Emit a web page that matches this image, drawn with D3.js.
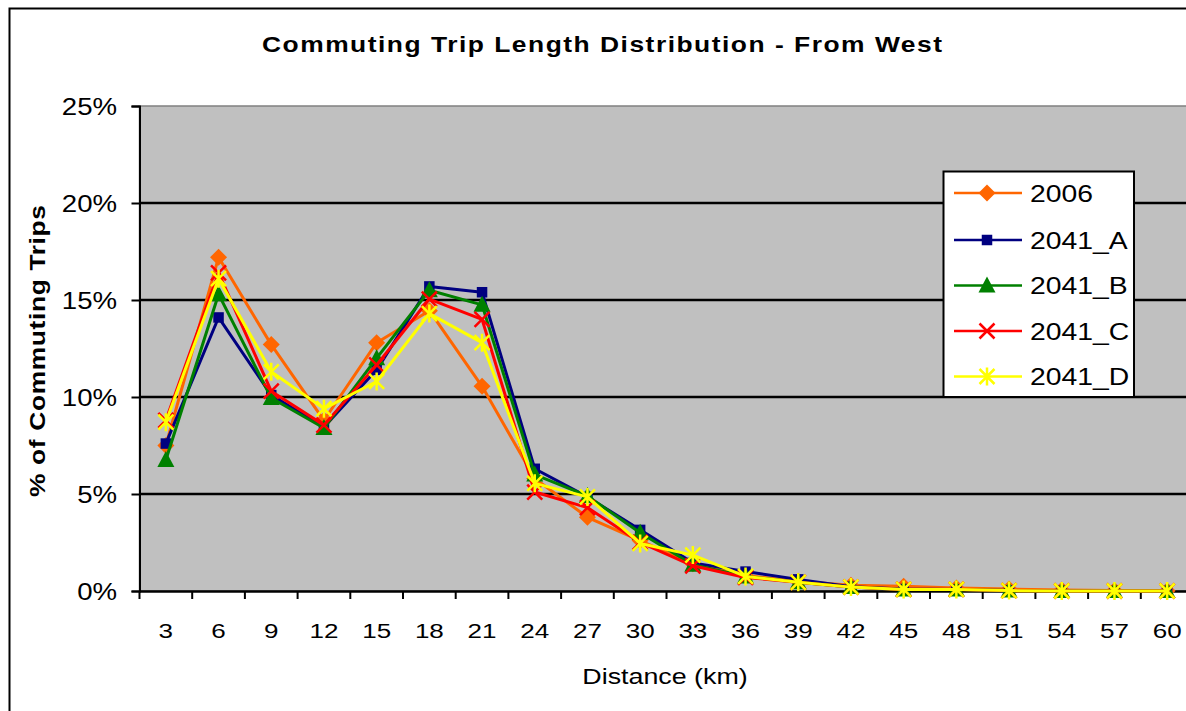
<!DOCTYPE html>
<html><head><meta charset="utf-8">
<script src="https://cdn.jsdelivr.net/npm/d3@7"></script>
<style>body{margin:0;background:#fff;}svg{display:block;font-family:"Liberation Sans",Arial,sans-serif;}</style>
</head><body>
<svg id="c" width="1186" height="711"></svg>
<script>
const categories = [3,6,9,12,15,18,21,24,27,30,33,36,39,42,45,48,51,54,57,60];
const s2006  = [7.5,17.2,12.7,8.8,12.8,14.45,10.55,5.8,3.8,2.6,1.4,0.8,0.5,0.3,0.25,0.15,0.1,0.05,0.02,0.01];
const s2041A = [7.6,14.1,10.1,8.45,11.4,15.7,15.4,6.3,4.85,3.15,1.45,1.0,0.6,0.22,0.1,0.08,0.03,0.01,0.0,0.0];
const s2041B = [6.75,15.3,9.95,8.4,12.0,15.5,14.75,6.0,4.9,3.0,1.35,0.75,0.45,0.2,0.08,0.08,0.02,0.0,0.0,0.0];
const s2041C = [8.8,16.4,10.3,8.55,11.65,15.05,14.0,5.1,4.3,2.5,1.3,0.7,0.45,0.2,0.08,0.08,0.02,0.0,0.0,0.0];
const s2041D = [8.7,16.1,11.3,9.4,10.8,14.3,12.8,5.55,4.85,2.45,1.85,0.75,0.45,0.2,0.08,0.08,0.02,0.0,0.0,0.0];
const seriesNames = ["2006","2041_A","2041_B","2041_C","2041_D"];
const yTicks = [0,5,10,15,20,25];

const series = [
  {name:seriesNames[0], values:s2006,  color:"#FF6600", marker:"diamond"},
  {name:seriesNames[1], values:s2041A, color:"#000080", marker:"square"},
  {name:seriesNames[2], values:s2041B, color:"#008000", marker:"triangle"},
  {name:seriesNames[3], values:s2041C, color:"#FF0000", marker:"x"},
  {name:seriesNames[4], values:s2041D, color:"#FFFF00", marker:"star"}
];

const svg = d3.select("#c");
const L = 139.5, R = 1193.5, T = 106, B = 591;

function stext(g, x, y, str, o){
  const t = g.append("text")
    .attr("transform", `translate(${x},${y})${o.rotate?` rotate(${o.rotate})`:""} scale(${o.sx||1},1)`)
    .attr("text-anchor", o.anchor||"start")
    .attr("font-size", o.size).attr("font-weight", o.weight||"normal")
    .attr("fill","#000").text(str);
  if(o.dy) t.attr("dy", o.dy);
  if(o.len) t.attr("textLength", o.len/(o.sx||1)).attr("lengthAdjust","spacing");
  return t;
}

// outer border
svg.append("rect").attr("x",9.5).attr("y",8.5).attr("width",1200).attr("height",720)
  .attr("fill","#fff").attr("stroke","#000").attr("stroke-width",2);

const x = d3.scaleBand().domain(categories).range([L,R]).padding(0);
const y = d3.scaleLinear().domain([0,25]).range([B,T]);

// plot area
svg.append("rect").attr("x",L).attr("y",T).attr("width",R-L).attr("height",B-T)
  .attr("fill","#C0C0C0").attr("stroke","#808080").attr("stroke-width",1.5);

// gridlines
svg.append("g").selectAll("line").data(yTicks.filter(d=>d>0&&d<25)).join("line")
  .attr("x1",L).attr("x2",R).attr("y1",d=>y(d)).attr("y2",d=>y(d))
  .attr("stroke","#000").attr("stroke-width",2.5);

// y axis
const ySX = 1.2;
const yAxis = d3.axisLeft(y).tickValues(yTicks).tickFormat(d=>d+"%").tickSize(8).tickPadding(14.5);
const gy = svg.append("g").attr("transform",`translate(${L},0)`).call(yAxis);
gy.select(".domain").attr("stroke","#000").attr("stroke-width",2);
gy.selectAll(".tick line").attr("stroke","#000").attr("stroke-width",2);
gy.selectAll("text").attr("font-size",23).attr("fill","#000").attr("dy","0.36em")
  .attr("x",-22.5/ySX).attr("transform",`scale(${ySX},1)`);

// x axis
const xSX = 1.24;
const xAxis = d3.axisBottom(x).tickSize(0).tickPadding(32);
const gx = svg.append("g").attr("transform",`translate(0,${B})`).call(xAxis);
gx.select(".domain").attr("stroke","#000").attr("stroke-width",2.5);
gx.selectAll("text").attr("font-size",21).attr("fill","#000").attr("transform",`scale(${xSX},1)`);
// ticks between categories
const tickPos = categories.map(c=>x(c)).concat([R]);
svg.append("g").selectAll("line").data(tickPos).join("line")
  .attr("x1",d=>d).attr("x2",d=>d).attr("y1",B).attr("y2",B+8)
  .attr("stroke","#000").attr("stroke-width",2);

// markers
function drawMarker(g, type, color, cx, cy){
  if(type==="diamond") g.append("path").attr("d",`M${cx},${cy-8.5}L${cx+8.5},${cy}L${cx},${cy+8.5}L${cx-8.5},${cy}Z`).attr("fill",color);
  else if(type==="square") g.append("rect").attr("x",cx-5.25).attr("y",cy-5.25).attr("width",10.5).attr("height",10.5).attr("fill",color);
  else if(type==="triangle") g.append("path").attr("d",`M${cx},${cy-9}L${cx+8.5},${cy+7}L${cx-8.5},${cy+7}Z`).attr("fill",color);
  else if(type==="x"){
    const s=7.5;
    g.append("path").attr("d",`M${cx-s},${cy-s}L${cx+s},${cy+s}M${cx-s},${cy+s}L${cx+s},${cy-s}`)
      .attr("stroke",color).attr("stroke-width",2.5).attr("fill","none");
  } else if(type==="star"){
    const s=7.5;
    g.append("path").attr("d",`M${cx-s},${cy-s}L${cx+s},${cy+s}M${cx-s},${cy+s}L${cx+s},${cy-s}M${cx},${cy-s-1.5}L${cx},${cy+s+1.5}`)
      .attr("stroke",color).attr("stroke-width",2.5).attr("fill","none");
  }
}

const line = d3.line().x((d,i)=>x(categories[i])+x.bandwidth()/2).y(d=>y(d));
series.forEach(s=>{
  const g = svg.append("g");
  g.append("path").datum(s.values).attr("d",line).attr("fill","none")
    .attr("stroke",s.color).attr("stroke-width",3).attr("stroke-linejoin","round");
  s.values.forEach((v,i)=>drawMarker(g,s.marker,s.color,x(categories[i])+x.bandwidth()/2,y(v)));
});

// legend
const lg = svg.append("g");
lg.append("rect").attr("x",943.5).attr("y",171.5).attr("width",190.5).attr("height",225.5)
  .attr("fill","#fff").attr("stroke","#000").attr("stroke-width",2);
const rowY = [193,240,285.5,331,376.5];
series.forEach((s,i)=>{
  const yy=rowY[i];
  lg.append("line").attr("x1",954).attr("x2",1022).attr("y1",yy).attr("y2",yy).attr("stroke",s.color).attr("stroke-width",2.5);
  drawMarker(lg,s.marker,s.color,987,yy);
  stext(lg,1030,yy,s.name,{size:24,sx:1.18,dy:"0.36em"});
});

// titles
stext(svg,602,52,"Commuting Trip Length Distribution - From West",{size:22,weight:"bold",anchor:"middle",sx:1.2,len:680});
stext(svg,45,351,"% of Commuting Trips",{size:22,weight:"bold",anchor:"middle",rotate:-90,sx:1.2,len:292});
stext(svg,665,684,"Distance (km)",{size:22,anchor:"middle",sx:1.22});
</script>
</body></html>
